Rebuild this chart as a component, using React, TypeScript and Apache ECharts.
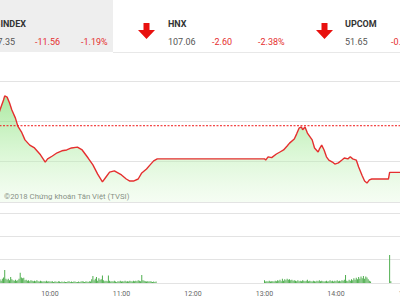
import React, { useEffect, useRef } from "react";
import * as echarts from "echarts";

// ---- data ----
const indexNames = ["VN-INDEX", "HNX", "UPCOM"];
const indexValues = ["957.35", "107.06", "51.65"];
const indexChanges = ["-11.56", "-2.60", "-0.47"];
const indexPercents = ["-1.19%", "-2.38%", "-0.90%"];

const priceTimes = [
  "09:15", "09:18", "09:21", "09:22", "09:24", "09:26", "09:28", "09:31", "09:33", "09:36",
  "09:39", "09:43", "09:47", "09:52", "09:56", "09:58", "10:02", "10:06", "10:10", "10:14",
  "10:18", "10:23", "10:27", "10:32", "10:36", "10:40", "10:44", "10:47", "10:50", "10:54",
  "10:57", "11:00", "11:04", "11:07", "11:10", "11:14", "11:17", "11:21", "11:24", "11:27",
  "11:30", "13:00", "13:01", "13:03", "13:06", "13:10", "13:13", "13:16", "13:19", "13:21",
  "13:25", "13:27", "13:29", "13:31", "13:32", "13:34", "13:36", "13:40", "13:42", "13:45",
  "13:46", "13:48", "13:50", "13:52", "13:54", "13:57", "13:59", "14:02", "14:05", "14:07",
  "14:10", "14:12", "14:14", "14:17", "14:19", "14:22", "14:24", "14:26", "14:28", "14:30",
  "14:44", "14:45", "15:00",
];
const priceValues = [
  969.8, 972.8, 975.3, 976.3, 976.0, 974.6, 972.8, 970.8, 968.8, 967.4,
  965.4, 964.1, 963.4, 961.7, 959.9, 960.7, 961.4, 962.2, 962.7, 962.9,
  963.4, 963.6, 962.9, 960.9, 959.2, 956.9, 955.0, 956.2, 957.4, 957.7,
  957.2, 956.7, 955.7, 955.2, 955.2, 955.7, 957.2, 958.2, 959.2, 960.2,
  960.7, 960.7, 960.4, 961.2, 961.0, 961.9, 962.4, 962.9, 963.9, 964.6,
  965.6, 966.9, 968.3, 968.6, 967.9, 968.6, 967.1, 965.4, 963.4, 962.4,
  963.1, 964.1, 962.9, 961.2, 960.4, 959.9, 959.4, 959.7, 960.4, 960.9,
  960.7, 961.2, 960.7, 960.4, 958.7, 956.5, 955.2, 954.7, 955.5, 955.7,
  955.7, 957.35, 957.35,
];
const refPrice = 968.91;
const priceMin = 950;
const priceMax = 980;
const priceStep = 10;

const volMorningStart = "09:15";
const volMorning = [
  8, 10, 6, 8, 5, 9, 12, 28, 9, 7, 9, 6, 13, 8, 6, 5, 7, 5, 6, 9,
  22, 12, 10, 11, 6, 7, 5, 6, 4, 6, 5, 4, 5, 4, 6, 4, 3, 5, 4, 3,
  4, 3, 5, 3, 4, 3, 3, 4, 2, 3, 3, 2, 4, 3, 2, 3, 2, 3, 2, 2,
  3, 4, 2, 3, 2, 3, 3, 2, 2, 3, 2, 3, 4, 3, 2, 3, 3, 2, 4, 3,
  8, 15, 6, 9, 13, 5, 10, 7, 8, 16, 6, 4, 5, 4, 16, 5, 3, 4, 3, 5,
  3, 2, 4, 3, 5, 3, 4, 3, 5, 3, 4, 3, 5, 4, 3, 5, 4, 5, 4, 6,
  5, 4, 17, 6, 5, 4, 3, 4, 3, 4, 3, 2, 3, 2, 3,
];
const volAfternoonStart = "13:00";
const volAfternoon = [
  6, 3, 4, 3, 5, 3, 4, 4, 3, 5, 4, 6, 5, 7, 4, 9, 5, 8, 6, 9,
  7, 8, 6, 7, 5, 6, 5, 4, 6, 4, 5, 4, 6, 5, 4, 5, 7, 4, 5, 4,
  3, 5, 4, 3, 5, 4, 6, 4, 5, 4, 3, 4, 5, 3, 4, 6, 4, 5, 3, 5,
  4, 6, 4, 5, 4, 6, 5, 7, 17, 5, 4, 7, 5, 8, 6, 10, 7, 11, 8, 13,
  9, 14, 10, 15, 9, 14, 12, 8, 5, 3,
];
const volAtcTimes = ["14:45", "14:46"];
const volAtc = [60, 4];
const volMax = 150;
const volStep = 50;

const dayStart = "09:00";
const dayEnd = "15:00";
const copyright = "©2018 Chứng khoán Tân Việt (TVSI)";

// ---- helpers ----
const toMin = (s: string) => {
  const [h, m] = s.split(":").map(Number);
  return h * 60 + m;
};

function buildVolume() {
  const out: [number, number][] = [];
  const m0 = toMin(volMorningStart);
  volMorning.forEach((v, i) => out.push([m0 + i, v]));
  const a0 = toMin(volAfternoonStart);
  volAfternoon.forEach((v, i) => out.push([a0 + i, v]));
  volAtcTimes.forEach((t, i) => out.push([toMin(t), volAtc[i]]));
  return out;
}

const RED = "#e52f2f";
const FONT = "Roboto";

function arrow(cx: number) {
  return {
    type: "polygon",
    shape: {
      points: [
        [cx - 3, 23], [cx + 3, 23], [cx + 3, 30], [cx + 8.5, 30],
        [cx, 39], [cx - 8.5, 30], [cx - 3, 30],
      ],
    },
    style: { fill: "#e8100e" },
  };
}

function txt(x: number, y: number, text: string, fill: string, opts: any = {}) {
  return {
    type: "text",
    x,
    y,
    style: {
      text,
      fill,
      font: `${opts.bold ? "bold " : ""}${opts.size || 9}px ${FONT}`,
      textAlign: opts.align || "left",
      textVerticalAlign: "middle",
    },
  };
}

export default function App() {
  const ref = useRef<HTMLDivElement>(null);
  useEffect(() => {
    if (!ref.current) return;
    const chart = echarts.init(ref.current, undefined, { renderer: "svg" });
    const xMin = toMin(dayStart);
    const xMax = toMin(dayEnd);
    const priceData = priceTimes.map((t, i) => [toMin(t), priceValues[i]]);
    const gridLine = { show: true, lineStyle: { color: "#e3e3e3", width: 1 } };
    const xBase = {
      type: "value",
      min: xMin,
      max: xMax,
      interval: 60,
      splitLine: { show: false },
      axisLine: { show: false },
      axisTick: { show: false },
    };
    chart.setOption({
      animation: false,
      backgroundColor: "#ffffff",
      grid: [
        { left: -21.5, right: -7.5, top: 81, height: 121, containLabel: false, outerBoundsMode: "none" },
        { left: -21.5, right: -7.5, top: 213, height: 70, containLabel: false, outerBoundsMode: "none" },
      ],
      xAxis: [
        { ...xBase, gridIndex: 0, axisLabel: { show: false } },
        {
          ...xBase,
          gridIndex: 1,
          axisLabel: {
            show: true,
            color: "#666",
            fontSize: 7,
            fontFamily: FONT,
            margin: 7,
            showMinLabel: true,
            showMaxLabel: true,
            formatter: (v: number) => `${String(Math.floor(v / 60)).padStart(2, "0")}:00`,
          },
        },
      ],
      yAxis: [
        {
          type: "value",
          gridIndex: 0,
          min: priceMin,
          max: priceMax,
          interval: priceStep,
          axisLabel: { show: false },
          axisLine: { show: false },
          axisTick: { show: false },
          splitLine: gridLine,
        },
        {
          type: "value",
          gridIndex: 1,
          min: 0,
          max: volMax,
          interval: volStep,
          axisLabel: { show: false },
          axisLine: { show: false },
          axisTick: { show: false },
          splitLine: gridLine,
        },
      ],
      series: [
        {
          type: "line",
          xAxisIndex: 0,
          yAxisIndex: 0,
          data: priceData,
          symbol: "none",
          lineStyle: { color: RED, width: 1.4 },
          areaStyle: {
            origin: "start",
            color: new echarts.graphic.LinearGradient(0, 0, 0, 1, [
              { offset: 0, color: "rgba(115,218,98,0.85)" },
              { offset: 0.5, color: "rgba(170,236,158,0.65)" },
              { offset: 1, color: "rgba(228,249,222,0.5)" },
            ]),
          },
          z: 3,
        },
        {
          type: "line",
          xAxisIndex: 0,
          yAxisIndex: 0,
          data: [[xMin, refPrice], [xMax, refPrice]],
          symbol: "none",
          silent: true,
          lineStyle: { color: "#f01818", type: [2, 1.5], width: 1 },
          z: 4,
        },
        {
          type: "bar",
          xAxisIndex: 1,
          yAxisIndex: 1,
          data: buildVolume(),
          barWidth: 1,
          itemStyle: { color: "#4fae4f" },
        },
      ],
      graphic: [
        { type: "rect", shape: { x: 0, y: 0, width: 113, height: 52 }, style: { fill: "#eeeeee" } },
        { type: "line", shape: { x1: 113, y1: 52.5, x2: 400, y2: 52.5 }, style: { stroke: "#e8e8e8", lineWidth: 1 } },
        txt(26, 24, indexNames[0], "#333", { bold: true, align: "right" }),
        txt(15, 42, indexValues[0], "#555", { align: "right" }),
        txt(35, 42, indexChanges[0], RED),
        txt(81, 42, indexPercents[0], RED),
        arrow(146.5),
        txt(168, 24, indexNames[1], "#333", { bold: true }),
        txt(168, 42, indexValues[1], "#555"),
        txt(212, 42, indexChanges[1], RED),
        txt(258, 42, indexPercents[1], RED),
        arrow(324.5),
        txt(345, 24, indexNames[2], "#333", { bold: true }),
        txt(345, 42, indexValues[2], "#555"),
        txt(391, 42, indexChanges[2], RED),
        txt(4, 196, copyright, "#555", { size: 7.8 }),
      ],
    });
    return () => chart.dispose();
  }, []);
  return <div ref={ref} style={{ width: 400, height: 300, position: "absolute", left: 0, top: 0 }} />;
}
